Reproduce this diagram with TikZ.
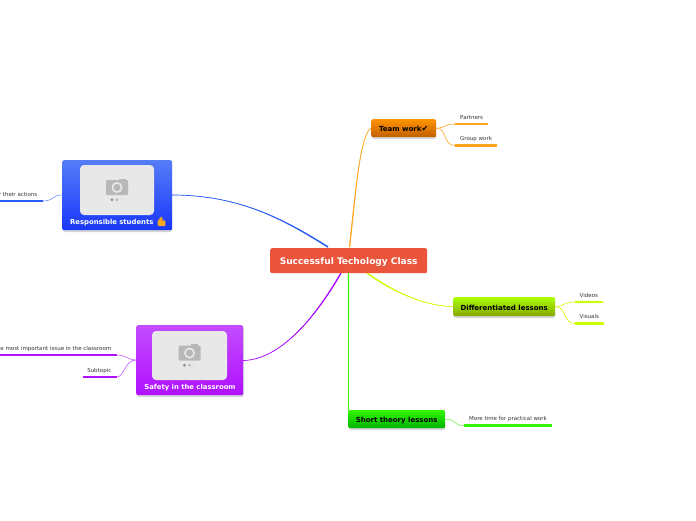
\documentclass[tikz,border=0pt]{standalone}
\usepackage{fontspec}
\setmainfont{DejaVu Sans}
\newfontfamily\emojifont{Noto Emoji}
\usetikzlibrary{calc}
\definecolor{cblue}{HTML}{2A5CF5}
\definecolor{cpurp}{HTML}{B010FF}
\definecolor{corange}{HTML}{FFA51E}
\definecolor{cyell}{HTML}{CCFF00}
\definecolor{cgreen}{HTML}{33F500}
\definecolor{ctext}{HTML}{333333}
\definecolor{cred}{HTML}{EA553B}
\definecolor{thumb}{HTML}{F5A623}
\tikzset{
  box/.style={rounded corners=2pt,inner sep=0pt,align=center,anchor=north west},
  dark/.style={font=\bfseries\fontsize{7}{8}\selectfont,text=black,text height=7pt,text depth=0pt},
  sub/.style={font=\fontsize{5.5}{6}\selectfont,text=ctext,inner sep=0pt},
  under/.style={line width=2.1pt},
  twig/.style={line width=.6pt},
  photo/.style={fill=black!9,rounded corners=4pt},
  shade1/.style={fill=black!35,rounded corners=2pt,opacity=.45},
  label1/.style={font=\bfseries\fontsize{6.85}{8}\selectfont,text=white,inner sep=0pt}
}
% tapered connector: colour, thin end, control 1, control 2, thick end, half width x, y
\newcommand{\taper}[7]{%
  \fill[#1] (#2) .. controls (#3) and ($(#4)+(#6,#7)$) .. ($(#5)+(#6,#7)$)
     -- ($(#5)-(#6,#7)$) .. controls ($(#4)-(#6,#7)$) and (#3) .. (#2) -- cycle;
  \draw[#1,line width=.7pt] (#2) .. controls (#3) and (#4) .. (#5);
}
\newcommand{\cambox}[4]{%
  \fill[photo] (#1,#2) rectangle (#3,#4);
  \begin{scope}[shift={({(#1+#3)/2},{(#2+#4)/2-2.5})}]
    \fill[black!28,rounded corners=.8pt] (-11,-7.5) rectangle (11,7.5);
    \fill[black!28] (1.5,-7.5) rectangle (8.5,-9);
    \fill[black!9] (0,0) circle (5.5);
    \fill[black!28] (0,0) circle (3.6);
    \fill[black!42] (-5,12.2) circle (1.6);
    \fill[black!26] (0,12.2) circle (1.6);
    \fill[black!12] (5,12.2) circle (1.6);
  \end{scope}
}
\begin{document}
\begin{tikzpicture}[x=1pt,y=-1pt]
\useasboundingbox (0,0) rectangle (696,520);
\clip (0,0) rectangle (696,520);
\fill[white] (0,0) rectangle (696,520);
% shadows
\fill[shade1] (372,121) rectangle (436,139);
\fill[shade1] (454,299) rectangle (555,318);
\fill[shade1] (349,412) rectangle (445,430);
\fill[shade1] (63,162) rectangle (172,232);
\fill[shade1] (137,327) rectangle (244,397);
% named points
\coordinate (hubO) at (349.5,247);
\coordinate (hubB) at (328,247);
\coordinate (hubP) at (341,273);
\coordinate (hubG) at (348.5,273);
\coordinate (hubY) at (367,273);
\coordinate (blueS) at (172,195);
\coordinate (purpS) at (243,360.5);
\coordinate (teamW) at (371,128);
\coordinate (diffW) at (453,306.5);
\coordinate (shortN) at (348.5,411);
\coordinate (pU) at (455,124);  \coordinate (pE) at (488,124);
\coordinate (gU) at (455,145.5);\coordinate (gE) at (497,145.5);
\coordinate (vU) at (575,302);  \coordinate (vE) at (603,302);
\coordinate (sU) at (575,323.5);\coordinate (sE) at (604,323.5);
\coordinate (mU) at (464,425.5);\coordinate (mE) at (552,425.5);
\coordinate (aU) at (43,201);   \coordinate (aE) at (-5,201);
\coordinate (iU) at (117,355);  \coordinate (iE) at (-5,355);
\coordinate (tU) at (117,377);  \coordinate (tE) at (83,377);
% main connectors
\taper{cblue}{blueS}{240,195}{285,220}{hubB}{.4}{-.6}
\taper{corange}{teamW}{360,135}{356,190}{hubO}{.6}{0}
\taper{cpurp}{purpS}{280,360}{315,318}{hubP}{.6}{.35}
\taper{cgreen}{shortN}{348.5,360}{348.5,320}{hubG}{.7}{0}
\taper{cyell}{diffW}{425,306}{395,293}{hubY}{-.35}{.6}
% nodes
\node[box,minimum width=157pt,minimum height=25pt,fill=cred,font=\bfseries\fontsize{9.05}{10}\selectfont,text=white,text height=8pt,text depth=0pt] (main) at (270,248) {Successful Techology Class};
\node[box,minimum width=65pt,minimum height=18pt,top color=orange!85!yellow,bottom color=orange!75!black,dark] (team) at (371,119) {Team work{\fontsize{8}{8}\selectfont ✔}};
\node[box,minimum width=102pt,minimum height=19pt,top color=cyell!85!green,bottom color=cyell!65!black,dark] (diff) at (453,297) {Differentiated lessons};
\node[box,minimum width=97pt,minimum height=18pt,top color=cgreen,bottom color=green!70!black,dark] (short) at (348,410) {Short theory lessons};
\node[box,minimum width=110pt,minimum height=70pt,top color=cblue!80!white,bottom color=cblue!60!blue] (resp) at (62,160) {};
\node[box,minimum width=107pt,minimum height=70pt,top color=cpurp!75!white,bottom color=cpurp] (safe) at (136,325) {};
\cambox{80}{165}{154}{215}
\cambox{152}{331}{227}{380}
\fill[thumb,rounded corners=.6pt] (158,221) -- (160.5,217) -- (162,217.3) -- (161.8,220.5) -- (165.3,220.5) -- (165.3,226) -- (158,226) -- cycle;
\node[label1,anchor=base west] (resplabel) at (70,224.5) {Responsible students {\emojifont\fontsize{8.5}{8}\selectfont\textcolor{thumb}{👍}}};
\node[label1,anchor=base] (safelabel) at (190,389) {Safety in the classroom};
% twigs
\draw[twig,corange] (team.east) .. controls (445,128) and (445,124) .. (pU);
\draw[twig,corange] (team.east) .. controls (447,128) and (443,145.5) .. (gU);
\draw[twig,cyell] (diff.east) .. controls (565,306) and (563,302) .. (vU);
\draw[twig,cyell] (diff.east) .. controls (566,306) and (563,323.5) .. (sU);
\draw[twig,cgreen!70] (short.east) .. controls (456,419) and (453,425.5) .. (mU);
\draw[twig,cblue!70] (resp.west |- 0,195) .. controls (52,195) and (54,201) .. (aU);
\draw[twig,cpurp!70] (safe.west |- 0,360) .. controls (128,360) and (126,355) .. (iU);
\draw[twig,cpurp!70] (safe.west |- 0,360) .. controls (125,360) and (124,377) .. (tU);
% underlines
\draw[under,corange] (pU) -- (pE);
\draw[under,corange] (gU) -- (gE);
\draw[under,cyell] (vU) -- (vE);
\draw[under,cyell] (sU) -- (sE);
\draw[under,cgreen] (mU) -- (mE);
\draw[under,cblue] (aU) -- (aE);
\draw[under,cpurp] (iU) -- (iE);
\draw[under,cpurp] (tU) -- (tE);
% sub-topic labels
\node[sub,anchor=base west] (l1) at (460,119) {Partners};
\node[sub,anchor=base west] (l2) at (460,140) {Group work};
\node[sub,anchor=base west] (l3) at (579.5,297) {Videos};
\node[sub,anchor=base west] (l4) at (579.5,318) {Visuals};
\node[sub,anchor=base west] (l5) at (469,420) {More time for practical work};
\node[sub,anchor=base east] (l6) at (37.5,196) {r their actions};
\node[sub,anchor=base east] (l7) at (111.5,350) {e most important issue in the classroom};
\node[sub,anchor=base east] (l8) at (111.5,372) {Subtopic};
\end{tikzpicture}
\end{document}
